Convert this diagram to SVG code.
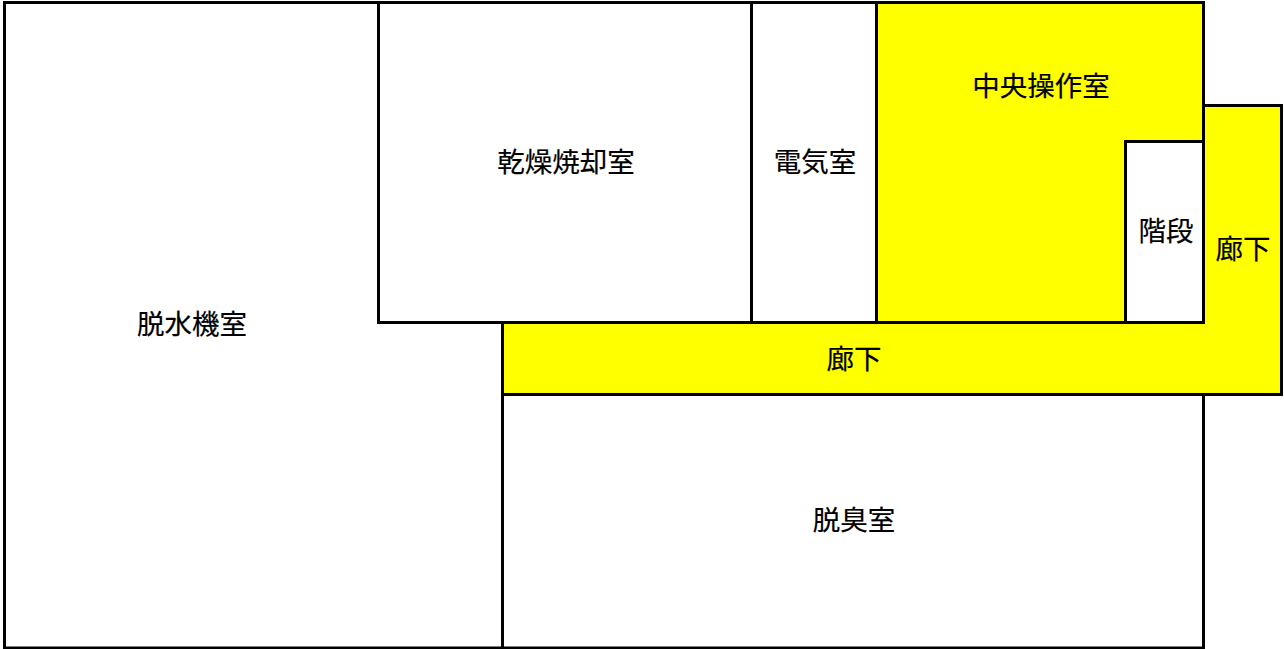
<svg xmlns="http://www.w3.org/2000/svg" width="1284" height="649" viewBox="0 0 1284 649">
<style>
.r{fill:#fff;stroke:#000;stroke-width:3}
.y{fill:#ff0;stroke:#000;stroke-width:3}
text{font-family:"Noto Sans CJK JP","Noto Sans CJK SC",sans-serif;font-size:27.5px;fill:#000;stroke:#000;stroke-width:.2;text-anchor:middle}
</style>
<rect width="1284" height="649" fill="#fff"/>
<g id="dassui"><path class="r" d="M4.5 2.500H378.500V322.500H502.500V648H4.500Z"/><text x="192" y="334">脱水機室</text></g>
<g id="kanso"><rect class="r" x="378.500" y="2.500" width="373" height="320"/><text x="566" y="172">乾燥焼却室</text></g>
<g id="denki"><rect class="r" x="751.500" y="2.500" width="125" height="320"/><text x="815" y="172">電気室</text></g>
<g id="chuo"><path class="y" d="M876.500 2.500H1203.500V141.500H1125.500V322.500H876.500Z"/><text x="1041" y="96">中央操作室</text></g>
<g id="kaidan"><rect class="r" x="1125.500" y="141.500" width="78" height="181"/><text x="1166" y="241">階段</text></g>
<g id="roka"><path class="y" d="M502.500 322.500H1203.500V105.500H1281.500V394.500H502.500Z"/><text x="854" y="369">廊下</text><text x="1243" y="259">廊下</text></g>
<g id="dasshu"><rect class="r" x="502.500" y="394.500" width="701" height="253.500"/><text x="854" y="530">脱臭室</text></g>
<g id="connectors"/>
</svg>
